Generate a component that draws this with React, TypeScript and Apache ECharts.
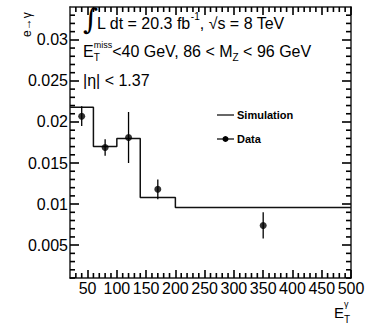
import React, { useEffect, useRef } from "react";
import * as echarts from "echarts";

// Histogram (simulation) bin edges and values
const binEdges = [20, 60, 100, 140, 200, 500];
const simValues = [0.0218, 0.017, 0.018, 0.0108, 0.0096];

// Data points: x, y, error
const dataX = [40, 80, 120, 170, 350];
const dataY = [0.0207, 0.0169, 0.0181, 0.0118, 0.0074];
const dataErr = [0.0012, 0.001, 0.0031, 0.0012, 0.0016];

const xMajorTicks = [50, 100, 150, 200, 250, 300, 350, 400, 450, 500];
const xMinorTicks = [30, 40, 60, 70, 80, 90, 110, 120, 130, 140, 160, 170, 180, 190, 210, 220, 230, 240, 260, 270, 280, 290, 310, 320, 330, 340, 360, 370, 380, 390, 410, 420, 430, 440, 460, 470, 480, 490];
const yMajorTicks = [0.005, 0.01, 0.015, 0.02, 0.025, 0.03];
const yMajorLabels = ["0.005", "0.01", "0.015", "0.02", "0.025", "0.03"];
const yMinorTicks = [0.001, 0.002, 0.003, 0.004, 0.006, 0.007, 0.008, 0.009, 0.011, 0.012, 0.013, 0.014, 0.016, 0.017, 0.018, 0.019, 0.021, 0.022, 0.023, 0.024, 0.026, 0.027, 0.028, 0.029, 0.031, 0.032, 0.033];

const X_MIN = 20;
const X_MAX = 500;
const Y_MIN = 0.001;
const Y_MAX = 0.034;

const FONT = "'Liberation Sans', Arial, Helvetica, sans-serif";
const AXIS_COLOR = "#222";
const TICK_COLOR = "#000";
const TICK_WIDTH = 1.6;

function measure(text: string, size: number, bold = false): number {
  const c = document.createElement("canvas").getContext("2d");
  if (!c) return text.length * size * 0.55;
  c.font = `${bold ? "bold " : ""}${size}px 'Liberation Sans'`;
  return c.measureText(text).width;
}

type Piece = { t: string; size: number; y: number; noAdvance?: boolean };

function layoutPieces(pieces: Piece[], x0: number): any[] {
  const out: any[] = [];
  let x = x0;
  for (const p of pieces) {
    out.push({
      type: "text",
      x: x,
      y: p.y,
      style: { text: p.t, fontSize: p.size, fontFamily: FONT, fill: "#000", align: "left", verticalAlign: "middle" },
    });
    if (!p.noAdvance) x = x + measure(p.t, p.size);
  }
  return out;
}

function buildTexts(): any[] {
  const g: any[] = [];
  g.push({
    type: "text", x: 83, y: 19,
    style: { text: "∫", fontSize: 29, fontFamily: "'DejaVu Serif', serif", fill: "#000", align: "left", verticalAlign: "middle" },
  });
  g.push(
    ...layoutPieces(
      [
        { t: "L dt = 20.3 fb", size: 16, y: 23 },
        { t: "-1", size: 10, y: 16 },
        { t: ", √s = 8 TeV", size: 16, y: 23 },
      ],
      97
    )
  );
  g.push(
    ...layoutPieces(
      [
        { t: "E", size: 16, y: 51 },
        { t: "T", size: 10, y: 57, noAdvance: true },
        { t: "miss", size: 9, y: 45 },
        { t: "<40 GeV, 86 < M", size: 16, y: 51 },
        { t: "Z", size: 10, y: 57 },
        { t: " < 96 GeV", size: 16, y: 51 },
      ],
      83
    )
  );
  g.push({
    type: "text", x: 83, y: 80,
    style: { text: "|η| < 1.37", fontSize: 16, fontFamily: FONT, fill: "#000", align: "left", verticalAlign: "middle" },
  });
  // Legend
  g.push({ type: "line", shape: { x1: 217, y1: 115, x2: 234, y2: 115 }, style: { stroke: "#000", lineWidth: 1.2 } });
  g.push({
    type: "text", x: 237, y: 115,
    style: { text: "Simulation", fontSize: 11, fontWeight: "bold", fontFamily: FONT, fill: "#000", align: "left", verticalAlign: "middle" },
  });
  g.push({ type: "line", shape: { x1: 217, y1: 139, x2: 234, y2: 139 }, style: { stroke: "#000", lineWidth: 1.2 } });
  g.push({ type: "circle", shape: { cx: 225.5, cy: 139, r: 3 }, style: { fill: "#000" } });
  g.push({
    type: "text", x: 237, y: 139,
    style: { text: "Data", fontSize: 11, fontWeight: "bold", fontFamily: FONT, fill: "#000", align: "left", verticalAlign: "middle" },
  });
  // X title
  g.push(
    ...layoutPieces(
      [
        { t: "E", size: 15, y: 312 },
        { t: "T", size: 10, y: 319, noAdvance: true },
        { t: "γ", size: 9, y: 304 },
      ],
      334
    )
  );
  // Y title
  g.push({
    type: "text", x: 27, y: 37, rotation: Math.PI / 2,
    style: { text: "e→γ", fontSize: 12, fontFamily: FONT, fill: "#000", align: "left", verticalAlign: "middle" },
  });
  return g;
}

export default function App() {
  const ref = useRef<HTMLDivElement>(null);
  useEffect(() => {
    if (!ref.current) return;
    const chart = echarts.init(ref.current, null, { renderer: "svg" });

    const stepData: number[][] = [];
    for (let i = 0; i < simValues.length; i++) stepData.push([binEdges[i], simValues[i]]);
    stepData.push([binEdges[binEdges.length - 1], simValues[simValues.length - 1]]);

    const errSeries = dataX.map((x, i) => ({
      type: "line",
      silent: true,
      xAxisIndex: 0,
      yAxisIndex: 0,
      data: [
        [x, dataY[i] - dataErr[i]],
        [x, dataY[i] + dataErr[i]],
      ],
      symbol: "none",
      z: 3,
      lineStyle: { color: "#000", width: 1.3 },
    }));

    const xBase = { type: "value", min: X_MIN, max: X_MAX, splitLine: { show: false } };
    const yBase = { type: "value", min: Y_MIN, max: Y_MAX, splitLine: { show: false } };
    const tickStyle = () => ({ color: TICK_COLOR, width: TICK_WIDTH });

    chart.setOption({
      animation: false,
      grid: { left: 70, right: 19, top: 7, bottom: 47 },
      xAxis: [
        {
          ...xBase, position: "bottom",
          axisLine: { show: true, lineStyle: { color: AXIS_COLOR, width: 1.5 } },
          axisTick: { show: true, inside: true, length: 8, customValues: xMajorTicks, lineStyle: tickStyle() },
          axisLabel: { show: true, customValues: xMajorTicks, margin: 2, fontSize: 16, color: "#000", fontFamily: FONT },
        },
        {
          ...xBase, position: "top",
          axisLine: { show: true, lineStyle: { color: AXIS_COLOR, width: 1.5 } },
          axisTick: { show: true, inside: true, length: 8, customValues: xMajorTicks, lineStyle: tickStyle() },
          axisLabel: { show: false },
        },
      ],
      yAxis: [
        {
          ...yBase, position: "left",
          axisLine: { show: true, lineStyle: { color: AXIS_COLOR, width: 1.5 } },
          axisTick: { show: true, inside: true, length: 9, customValues: yMajorTicks, lineStyle: tickStyle() },
          axisLabel: {
            show: true, customValues: yMajorTicks, margin: 2, fontSize: 16, color: "#000", fontFamily: FONT,
            formatter: (v: number) => {
              const i = yMajorTicks.findIndex((t) => Math.abs(t - v) < 1e-9);
              return i >= 0 ? yMajorLabels[i] : "";
            },
          },
        },
        {
          ...yBase, position: "right",
          axisLine: { show: true, lineStyle: { color: AXIS_COLOR, width: 1.5 } },
          axisTick: { show: true, inside: true, length: 9, customValues: yMajorTicks, lineStyle: tickStyle() },
          axisLabel: { show: false },
        },
      ],
      series: [
        {
          type: "line",
          name: "Simulation",
          xAxisIndex: 0,
          yAxisIndex: 0,
          step: "end",
          data: stepData,
          symbol: "none",
          lineStyle: { color: "#111", width: 1.5 },
        },
        ...errSeries,
        {
          type: "scatter",
          name: "Data",
          xAxisIndex: 0,
          yAxisIndex: 0,
          data: dataX.map((x, i) => [x, dataY[i]]),
          symbol: "circle",
          symbolSize: 7,
          z: 4,
          itemStyle: { color: "#000" },
        },
      ],
      graphic: buildTexts(),
    });

    // Minor ticks (inside, on all four sides), positioned through the chart's own scales
    const px = (x: number, y: number) => chart.convertToPixel({ gridIndex: 0 }, [x, y]) as any;
    const left = px(X_MIN, Y_MIN)[0];
    const right = px(X_MAX, Y_MIN)[0];
    const bottom = px(X_MIN, Y_MIN)[1];
    const top = px(X_MIN, Y_MAX)[1];
    const ticks: any[] = [];
    const mk = (x1: number, y1: number, x2: number, y2: number) => ({
      type: "line",
      z: 10,
      shape: { x1, y1, x2, y2 },
      style: { stroke: TICK_COLOR, lineWidth: TICK_WIDTH },
    });
    for (const v of xMinorTicks) {
      const x = px(v, Y_MIN)[0];
      ticks.push(mk(x, bottom, x, bottom - 5));
      ticks.push(mk(x, top, x, top + 5));
    }
    for (const v of yMinorTicks) {
      const y = px(X_MIN, v)[1];
      ticks.push(mk(left, y, left + 5, y));
      ticks.push(mk(right, y, right - 5, y));
    }
    chart.setOption({ graphic: [...buildTexts(), ...ticks] });

    return () => chart.dispose();
  }, []);
  return <div ref={ref} style={{ position: "absolute", left: 0, top: 0, width: 370, height: 325 }} />;
}
